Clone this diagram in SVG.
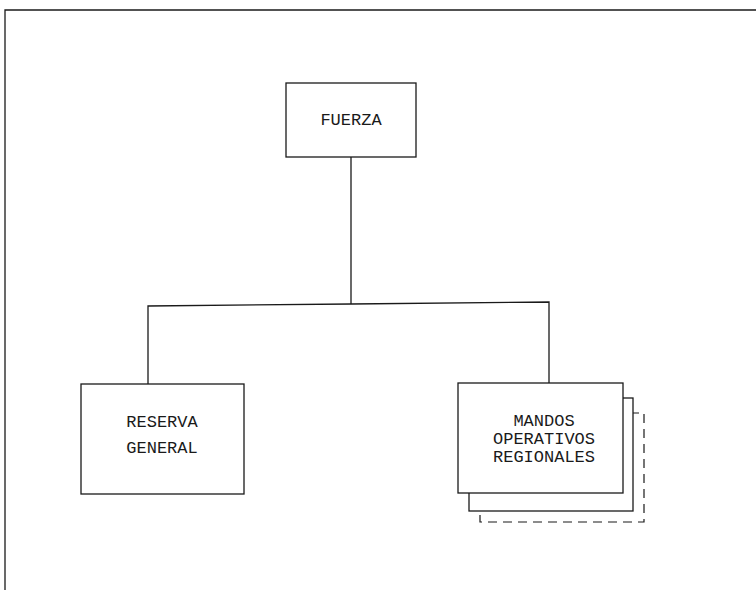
<svg xmlns="http://www.w3.org/2000/svg" width="756" height="590" viewBox="0 0 756 590">
<style>
.box{fill:#fff;stroke:#1a1a1a;stroke-width:1.3}
.dash{fill:#fff;stroke:#1a1a1a;stroke-width:1.2;stroke-dasharray:9 6}
.ln{fill:none;stroke:#1a1a1a;stroke-width:1.3}
.t{font-family:"Liberation Mono","Courier New",monospace;font-size:17px;fill:#1a1a1a;text-anchor:middle}
</style>
<rect width="756" height="590" fill="#fff"/>
<g id="frame">
<path class="ln" d="M5,590 V10 H756"/>
</g>
<g id="connectors">
<path class="ln" d="M351,157 V304"/>
<path class="ln" d="M148,384 V306 L351,304 L549,302 V383"/>
</g>
<g id="fuerza">
<rect class="box" x="286" y="83" width="130" height="74"/>
<text class="t" x="351" y="125">FUERZA</text>
</g>
<g id="reserva">
<rect class="box" x="81" y="384" width="163" height="110"/>
<text class="t" x="162" y="427">RESERVA</text>
<text class="t" x="162" y="453">GENERAL</text>
</g>
<g id="mandos">
<rect class="dash" x="480" y="413" width="164" height="109"/>
<rect class="box" x="469" y="398" width="164" height="113"/>
<rect class="box" x="458" y="383" width="165" height="110"/>
<text class="t" x="544" y="426">MANDOS</text>
<text class="t" x="544" y="444">OPERATIVOS</text>
<text class="t" x="544" y="462">REGIONALES</text>
</g>
</svg>
